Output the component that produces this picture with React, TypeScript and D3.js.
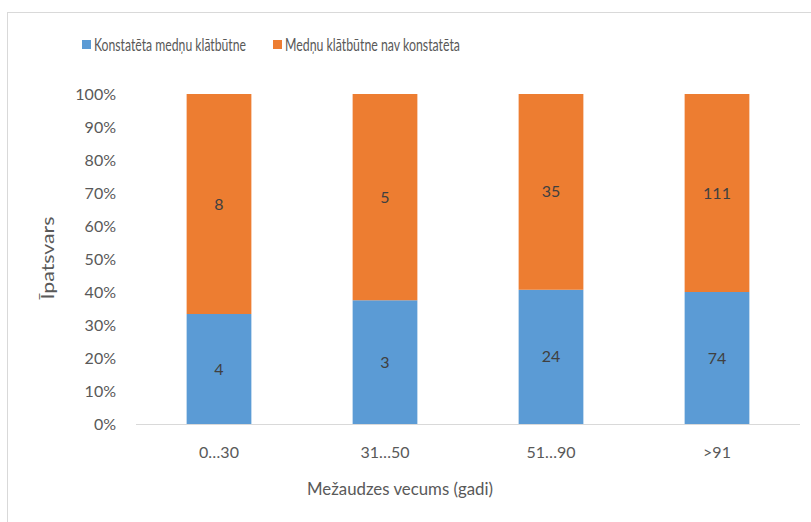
import React, { useEffect, useRef } from "react"
import * as d3 from "d3"

const categories = ["0…30", "31…50", "51…90", ">91"]
const seriesNames = ["Konstatēta medņu klātbūtne", "Medņu klātbūtne nav konstatēta"]
const present = [4, 3, 24, 74]
const absent = [8, 5, 35, 111]
const yTicks = [0, 0.1, 0.2, 0.3, 0.4, 0.5, 0.6, 0.7, 0.8, 0.9, 1]
const colors = ["#5B9BD5", "#ED7D31"]

const FONT = "Lato, 'Open Sans', sans-serif"
const TEXT = "#595959"

export default function App() {
  const ref = useRef<SVGSVGElement>(null)

  useEffect(() => {
    const svg = d3.select(ref.current)
    svg.selectAll("*").remove()

    const W = 811, H = 522
    const left = 136, right = 800, top = 94, bottom = 424

    // outer chart frame (cropped on right/bottom)
    svg.append("rect").attr("x", 7.5).attr("y", 12.5).attr("width", 830).attr("height", 540)
      .attr("fill", "white").attr("stroke", "#d9d9d9").attr("stroke-width", 1)

    const x = d3.scaleBand().domain(categories).range([left, right]).paddingInner(0.61).paddingOuter(0.305)
    const y = d3.scaleLinear().domain([0, 1]).range([bottom, top])

    const rows = categories.map((c, i) => ({ cat: c, a: present[i], b: absent[i] }))
    const stack = d3.stack<any>().keys(["a", "b"]).offset(d3.stackOffsetExpand)(rows)

    stack.forEach((layer, si) => {
      const g = svg.append("g")
      g.selectAll("rect").data(layer).enter().append("rect")
        .attr("x", d => x(d.data.cat)!)
        .attr("width", x.bandwidth())
        .attr("y", d => y(d[1]))
        .attr("height", d => y(d[0]) - y(d[1]))
        .attr("fill", colors[si])
      g.selectAll("text").data(layer).enter().append("text")
        .attr("x", d => x(d.data.cat)! + x.bandwidth() / 2)
        .attr("y", d => (y(d[0]) + y(d[1])) / 2)
        .attr("dy", "0.35em")
        .attr("text-anchor", "middle")
        .attr("font-family", FONT).attr("font-size", 16).attr("fill", "#404040")
        .text(d => d.data[layer.key])
    })

    // x axis line
    svg.append("line").attr("x1", left).attr("x2", right).attr("y1", bottom + 0.5).attr("y2", bottom + 0.5)
      .attr("stroke", "#d9d9d9")

    // y tick labels
    svg.append("g").selectAll("text").data(yTicks).enter().append("text")
      .attr("x", 116).attr("y", d => y(d)).attr("dy", "0.35em")
      .attr("text-anchor", "end")
      .attr("font-family", FONT).attr("font-size", 16).attr("fill", TEXT)
      .text(d => d3.format(".0%")(d))

    // category labels
    svg.append("g").selectAll("text").data(categories).enter().append("text")
      .attr("x", d => x(d)! + x.bandwidth() / 2).attr("y", 452).attr("dy", "0.35em")
      .attr("text-anchor", "middle")
      .attr("font-family", FONT).attr("font-size", 16).attr("fill", TEXT)
      .text(d => d)

    // axis titles
    svg.append("text").attr("x", 400).attr("y", 489).attr("dy", "0.35em").attr("text-anchor", "middle")
      .attr("font-family", FONT).attr("font-size", 18).attr("fill", TEXT)
      .attr("textLength", 186).attr("lengthAdjust", "spacingAndGlyphs")
      .text("Mežaudzes vecums (gadi)")
    svg.append("text").attr("transform", "translate(48,258) rotate(-90)").attr("dy", "0.35em")
      .attr("text-anchor", "middle")
      .attr("font-family", FONT).attr("font-size", 18).attr("fill", TEXT)
      .attr("textLength", 83).attr("lengthAdjust", "spacingAndGlyphs")
      .text("Īpatsvars")

    // legend
    const legendX = [82, 273]
    const legendLen = [152, 175]
    seriesNames.forEach((name, i) => {
      svg.append("rect").attr("x", legendX[i]).attr("y", 40).attr("width", 9).attr("height", 9).attr("fill", colors[i])
      svg.append("text").attr("x", legendX[i] + 12).attr("y", 45).attr("dy", "0.35em")
        .attr("font-family", FONT).attr("font-size", 17).attr("fill", TEXT)
        .attr("textLength", legendLen[i]).attr("lengthAdjust", "spacingAndGlyphs")
        .text(name)
    })

    svg.attr("width", W).attr("height", H)
  }, [])

  return (
    <div style={{ position: "absolute", left: 0, top: 0 }}>
      <svg ref={ref} width={811} height={522} style={{ display: "block" }} />
    </div>
  )
}
